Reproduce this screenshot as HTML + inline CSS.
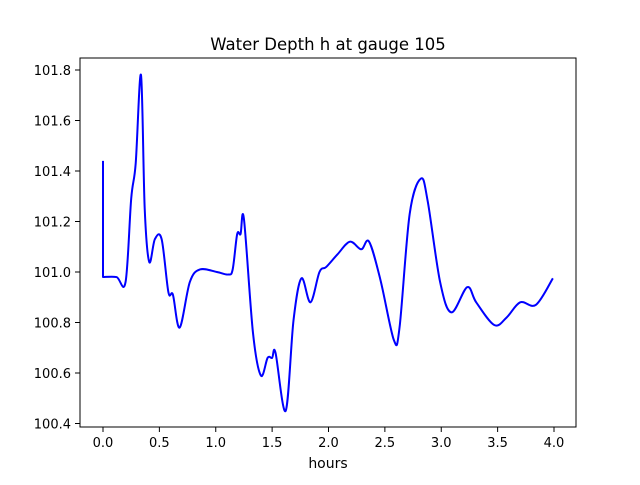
<!DOCTYPE html>
<html><head><meta charset="utf-8"><style>
body{margin:0;background:#fff}
svg text{font-family:"DejaVu Sans","Liberation Sans",sans-serif;fill:#000}
</style></head><body>
<svg id="chart" width="640" height="480" xmlns="http://www.w3.org/2000/svg">
<rect width="640" height="480" fill="#fff"/>
<text x="328" y="50" font-size="16.5" text-anchor="middle">Water Depth h at gauge 105</text>
<g id="grid"></g>
<path id="series" fill="none" stroke="#0000ff" stroke-width="2" stroke-linejoin="round"/>
<rect x="80" y="58" width="496" height="369" fill="none" stroke="#000" stroke-width="1"/>
<text x="328" y="468" font-size="14" text-anchor="middle">hours</text>
</svg>
<script>
const hours=[0,0,0.12,0.20,0.25,0.29,0.337,0.37,0.41,0.46,0.52,0.58,0.62,0.68,0.77,0.86,1.01,1.11,1.15,1.19,1.22,1.25,1.33,1.40,1.46,1.50,1.53,1.62,1.69,1.76,1.84,1.92,1.98,2.08,2.19,2.29,2.36,2.46,2.58,2.63,2.72,2.82,2.88,2.99,3.09,3.23,3.31,3.47,3.58,3.70,3.84,3.99];
const depth=[101.44,100.98,100.98,100.96,101.29,101.43,101.78,101.25,101.04,101.13,101.13,100.92,100.91,100.78,100.96,101.01,101.0,100.99,101.01,101.15,101.15,101.21,100.76,100.59,100.66,100.66,100.68,100.45,100.81,100.975,100.88,101.0,101.02,101.07,101.12,101.09,101.12,100.97,100.73,100.78,101.23,101.37,101.28,100.96,100.84,100.94,100.88,100.79,100.82,100.88,100.87,100.975];
const xTicks=[0,0.5,1,1.5,2,2.5,3,3.5,4];
const yTicks=[100.4,100.6,100.8,101.0,101.2,101.4,101.6,101.8];
const X=v=>103+v*112.75;
const Y=v=>272-(v-101)*252.5;
const NS="http://www.w3.org/2000/svg";
const g=document.getElementById('grid');
xTicks.forEach(t=>{
 const l=document.createElementNS(NS,'line');
 
 
 l.setAttribute('x1',X(t));l.setAttribute('x2',X(t));l.setAttribute('y1',427);l.setAttribute('y2',432);l.setAttribute('stroke','#000');
 g.appendChild(l);
 const tx=document.createElementNS(NS,'text');
 
 
 tx.setAttribute('x',X(t));tx.setAttribute('y',447);tx.setAttribute('font-size','13');tx.setAttribute('text-anchor','middle');
 tx.textContent=t.toFixed(1);g.appendChild(tx);
});
yTicks.forEach(t=>{
 const l=document.createElementNS(NS,'line');
 
 
 l.setAttribute('x1',75);l.setAttribute('x2',80);l.setAttribute('y1',Y(t));l.setAttribute('y2',Y(t));l.setAttribute('stroke','#000');
 g.appendChild(l);
 const tx=document.createElementNS(NS,'text');
 
 
 tx.setAttribute('x',71);tx.setAttribute('y',Y(t)+5);tx.setAttribute('font-size','13');tx.setAttribute('text-anchor','end');
 tx.textContent=t.toFixed(1);g.appendChild(tx);
});
const p=hours.map((h,i)=>[X(h),Y(depth[i])]);
let d=`M${p[0][0]},${p[0][1]} L${p[1][0]},${p[1][1]}`;
for(let i=1;i<p.length-1;i++){
 const p0=p[Math.max(i-1,1)],p1=p[i],p2=p[i+1],p3=p[Math.min(i+2,p.length-1)];
 const c1=[p1[0]+(p2[0]-p0[0])/6,p1[1]+(p2[1]-p0[1])/6];
 const c2=[p2[0]-(p3[0]-p1[0])/6,p2[1]-(p3[1]-p1[1])/6];
 d+=` C${c1[0]},${c1[1]} ${c2[0]},${c2[1]} ${p2[0]},${p2[1]}`;
}
document.getElementById('series').setAttribute('d',d);
</script>
</body></html>
